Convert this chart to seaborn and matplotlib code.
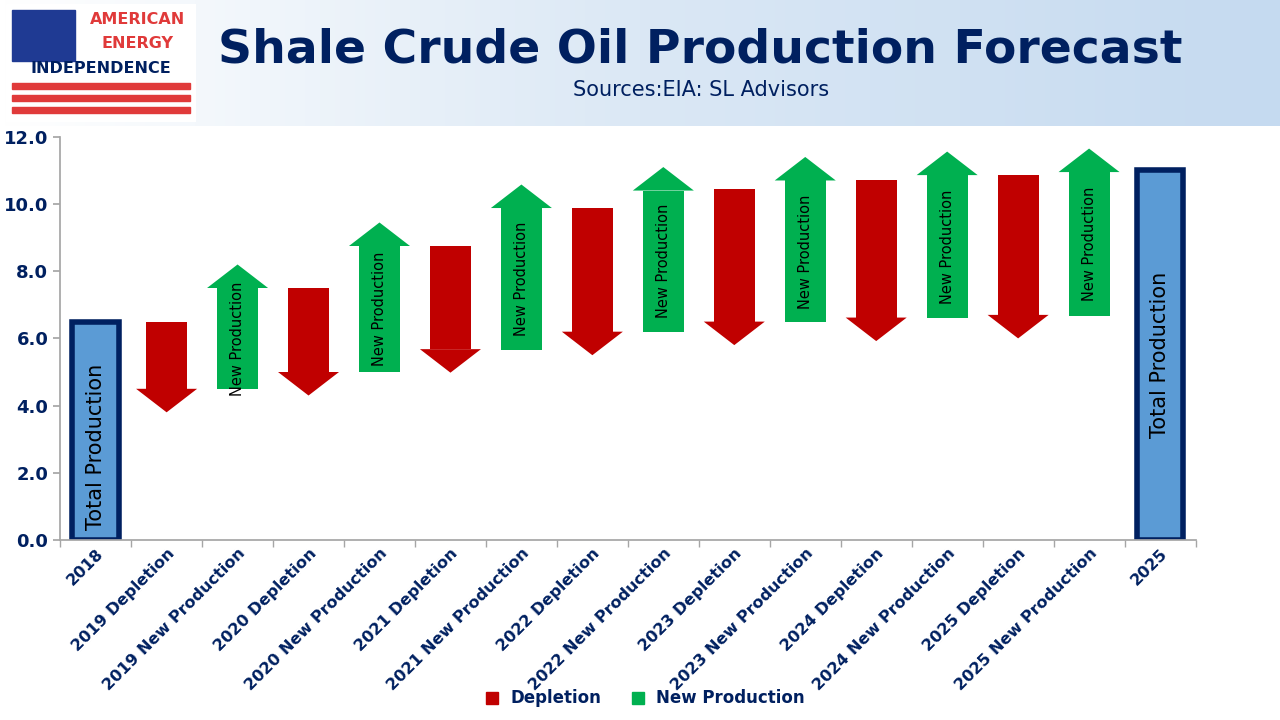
import matplotlib
matplotlib.use("Agg")
import matplotlib.pyplot as plt
import seaborn as sns
import numpy as np
from matplotlib.patches import Polygon, Rectangle
from matplotlib.colors import LinearSegmentedColormap
from matplotlib.lines import Line2D

categories = ["2018", "2019 Depletion", "2019 New Production", "2020 Depletion", "2020 New Production",
              "2021 Depletion", "2021 New Production", "2022 Depletion", "2022 New Production",
              "2023 Depletion", "2023 New Production", "2024 Depletion", "2024 New Production",
              "2025 Depletion", "2025 New Production", "2025"]
kinds = ["total", "dep", "new", "dep", "new", "dep", "new", "dep", "new", "dep", "new", "dep", "new", "dep", "new", "total"]
starts = [0.0, 6.5, 4.5, 7.5, 5.0, 8.75, 5.65, 9.88, 6.2, 10.45, 6.48, 10.71, 6.62, 10.86, 6.68, 0.0]
ends = [6.5, 4.5, 7.5, 5.0, 8.75, 5.68, 9.88, 6.2, 10.4, 6.5, 10.7, 6.62, 10.86, 6.7, 10.95, 11.0]

RED = "#C00000"; GREEN = "#00B050"; BLUE = "#5B9BD5"; NAVY = "#002060"

sns.set_theme(style="white")
plt.rcParams['font.family'] = ['DejaVu Sans']
fig = plt.figure(figsize=(12.8, 7.2), dpi=100)

hax = fig.add_axes([0, 0.825, 1, 0.175])
grad = np.linspace(0, 1, 256).reshape(1, -1)
hax.imshow(grad, aspect='auto', cmap=LinearSegmentedColormap.from_list("g", ["#ffffff", "#dbe8f5", "#c5daf0"]),
           extent=[0, 1, 0, 1])
hax.axis('off')
lax = fig.add_axes([0.005, 0.83, 0.148, 0.165])
lax.set_xlim(0, 1); lax.set_ylim(0, 1); lax.axis('off')
lax.add_patch(Rectangle((0, 0), 1, 1, color="white"))
lax.add_patch(Rectangle((0.03, 0.52), 0.33, 0.43, color="#1f3a93"))
for i in range(3):
    lax.add_patch(Rectangle((0.03, 0.08 + i * 0.1), 0.94, 0.05, color="#e03a3a"))
lax.text(0.69, 0.87, "AMERICAN", color="#e03a3a", fontsize=11.5, fontweight='bold', ha='center', va='center')
lax.text(0.69, 0.66, "ENERGY", color="#e03a3a", fontsize=11.5, fontweight='bold', ha='center', va='center')
lax.text(0.5, 0.45, "INDEPENDENCE", color=NAVY, fontsize=11.5, fontweight='bold', ha='center', va='center')

fig.text(0.547, 0.93, "Shale Crude Oil Production Forecast", color=NAVY, fontsize=34, fontweight='bold',
         ha='center', va='center')
fig.text(0.548, 0.875, "Sources:EIA: SL Advisors", color=NAVY, fontsize=15, ha='center', va='center')

ax = fig.add_axes([0.047, 0.25, 0.887, 0.56])
x = np.arange(len(categories))
bw = 0.58; hw = 0.86; hl = 0.7
for i, (k, s, e) in enumerate(zip(kinds, starts, ends)):
    if k == "total":
        ax.bar(i, e, width=0.66, color=BLUE, edgecolor=NAVY, linewidth=4)
    else:
        col = RED if k == "dep" else GREEN
        lo, hi = min(s, e), max(s, e)
        ax.bar(i, hi - lo, bottom=lo, width=bw, color=col, linewidth=0)
        d = 1 if e > s else -1
        ax.add_patch(Polygon([(i - hw / 2, e), (i + hw / 2, e), (i, e + d * hl)], closed=True, color=col, lw=0))
        if k == "new":
            ax.text(i, (s + e) / 2, "New Production", rotation=90, ha='center', va='center', fontsize=10.5, color='black')
ax.text(0, 0.3, "Total Production", rotation=90, ha='center', va='bottom', fontsize=15, color='black')
ax.text(15, 5.5, "Total Production", rotation=90, ha='center', va='center', fontsize=15, color='black')

ax.set_xlim(-0.5, len(categories) - 0.5)
ax.set_ylim(0, 12)
ax.set_yticks(np.arange(0, 12.1, 2))
ax.set_yticklabels([f"{v:.1f}" for v in np.arange(0, 12.1, 2)], fontsize=13, fontweight='bold', color=NAVY)
ax.set_xticks(x)
ax.set_xticklabels(categories, rotation=45, ha='right', rotation_mode='anchor', fontsize=11.5,
                   fontweight='bold', color=NAVY)
for sp in ["top", "right"]:
    ax.spines[sp].set_visible(False)
for sp in ["left", "bottom"]:
    ax.spines[sp].set_color("#a6a6a6")
ax.tick_params(axis='x', length=0, pad=4)
ax.tick_params(axis='y', left=True, length=5, color="#a6a6a6")
ax.set_xticks(np.arange(-0.5, len(categories), 1), minor=True)
ax.tick_params(axis='x', which='minor', bottom=True, length=5, color="#a6a6a6")

handles = [Line2D([], [], marker='s', ls='', color=RED, markersize=9),
           Line2D([], [], marker='s', ls='', color=GREEN, markersize=9)]
fig.legend(handles, ["Depletion", "New Production"], loc='center', bbox_to_anchor=(0.5, 0.03), ncol=2,
           frameon=False, prop={'size': 12, 'weight': 'bold'}, labelcolor=NAVY, handletextpad=0.1, columnspacing=1.2)

fig.savefig("out.png", dpi=100, facecolor="white")
